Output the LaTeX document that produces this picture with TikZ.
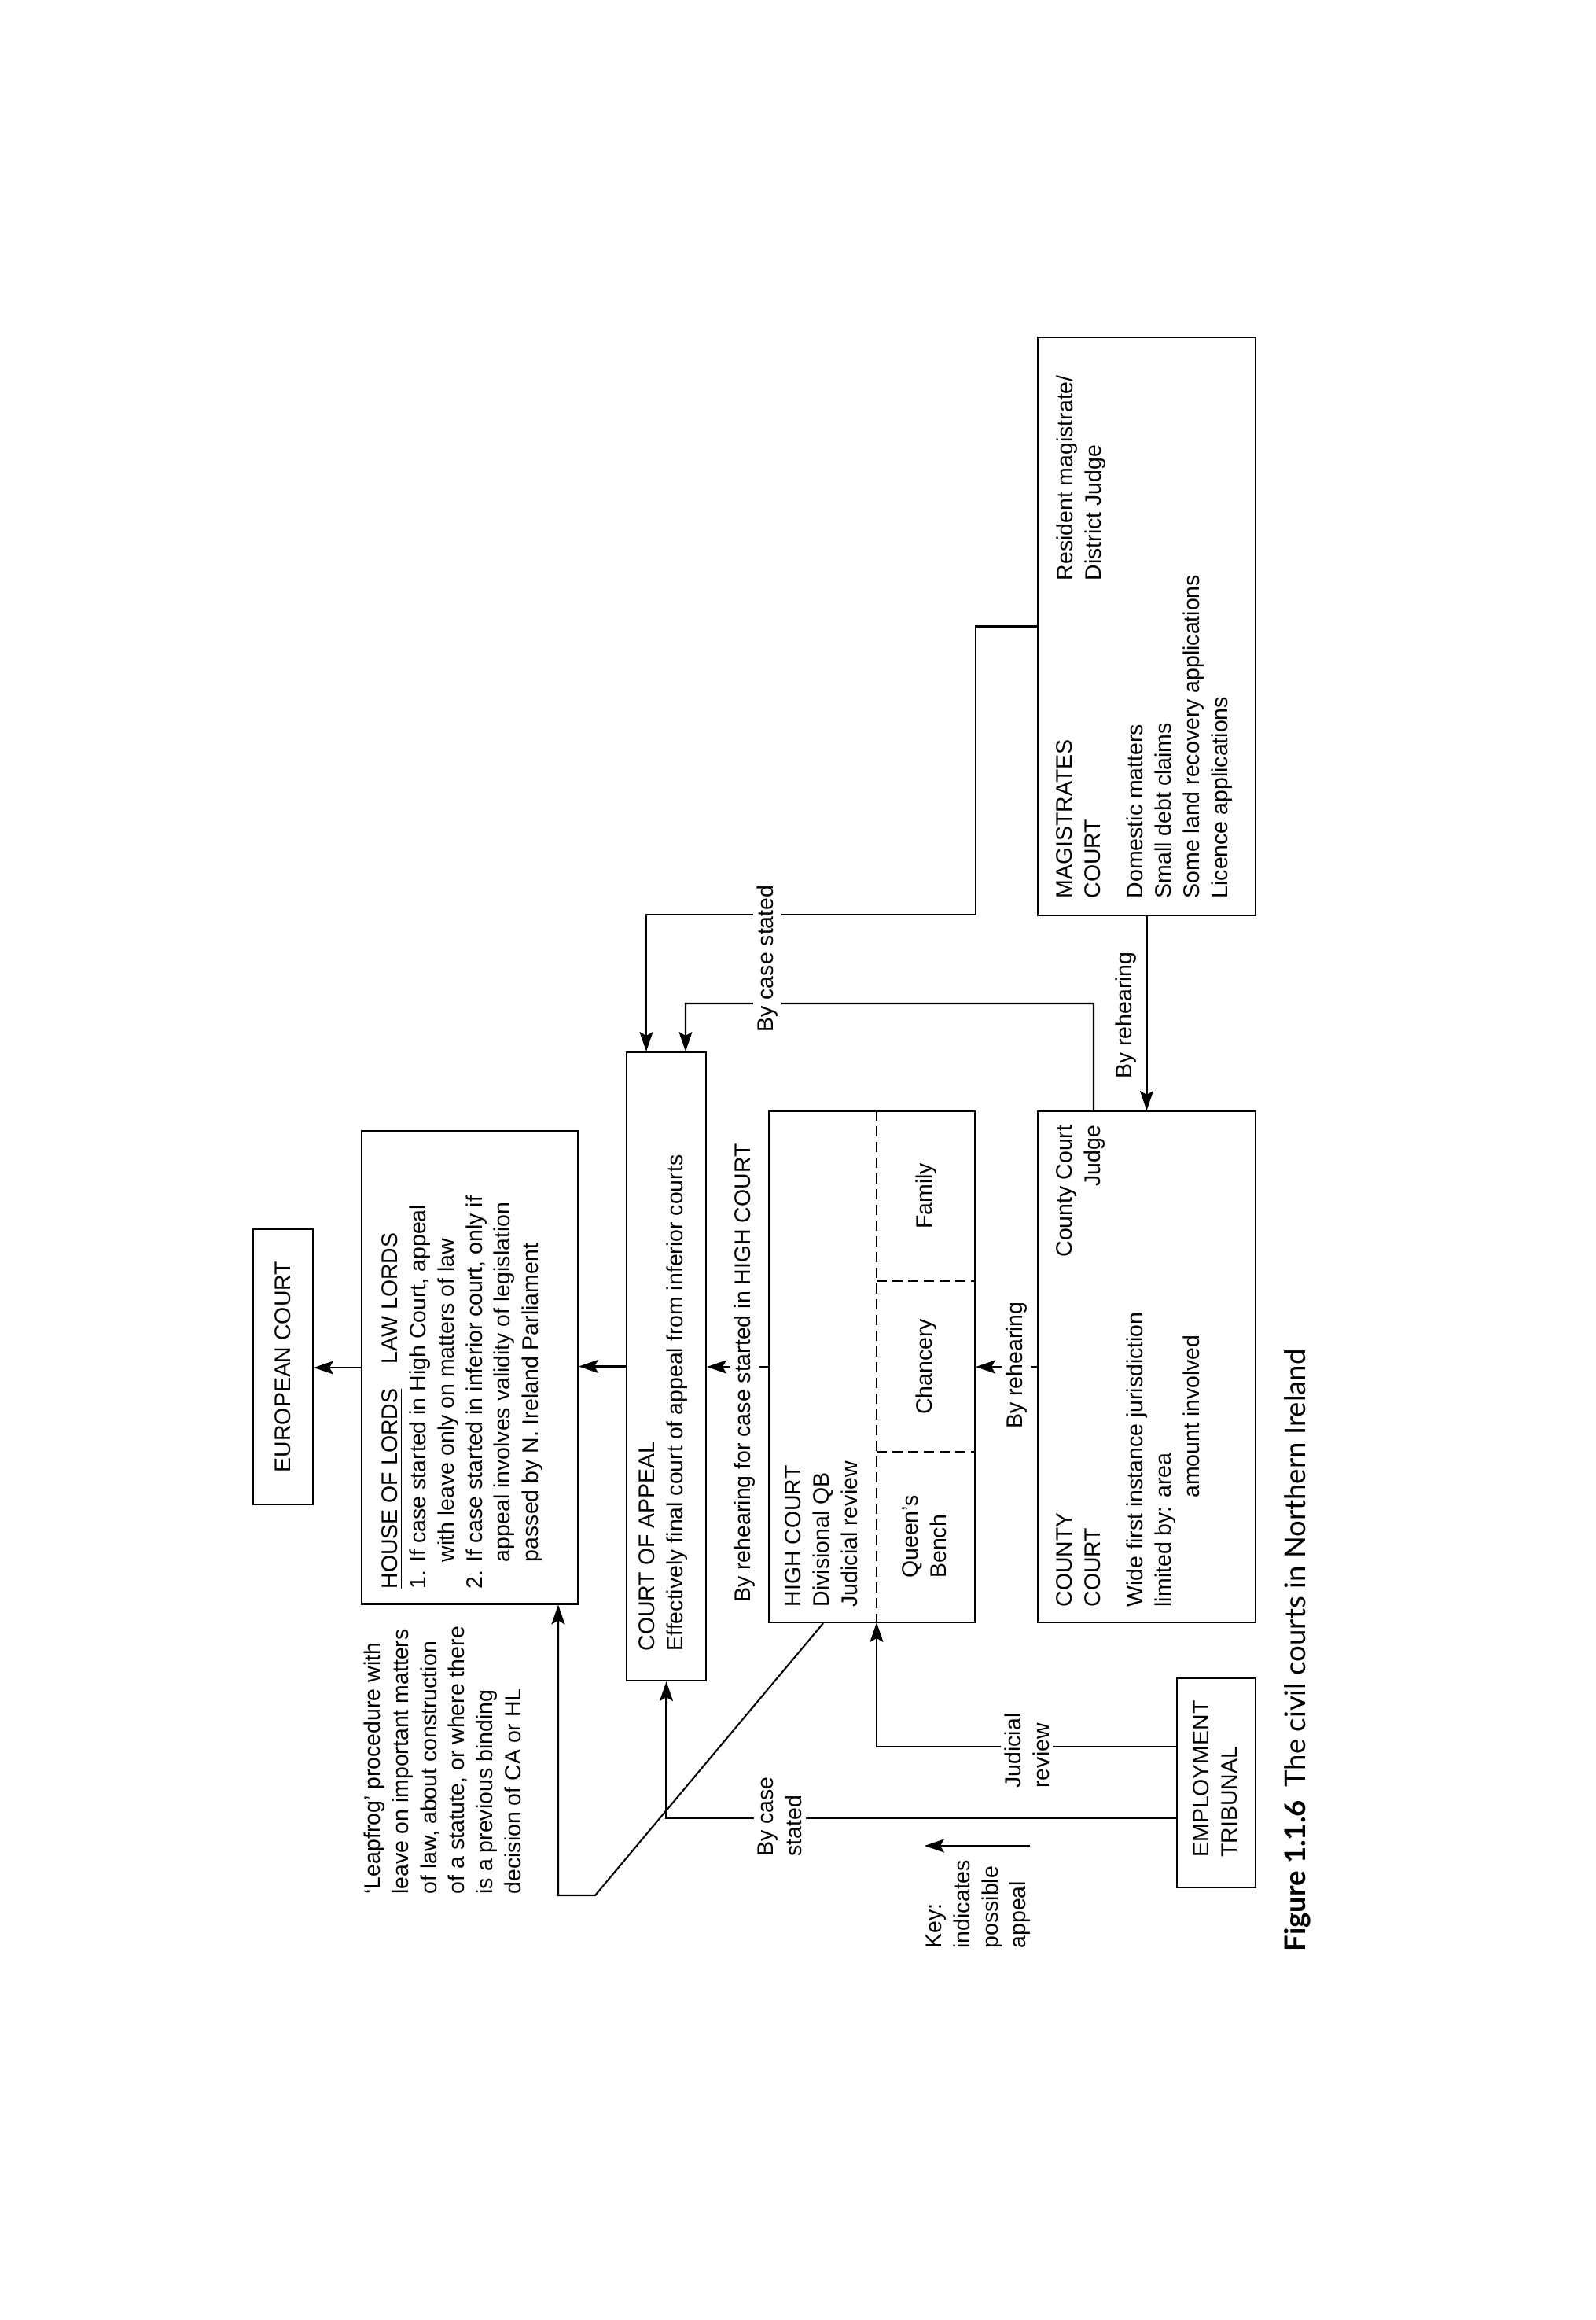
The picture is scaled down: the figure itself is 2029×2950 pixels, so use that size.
\documentclass[tikz,border=0pt]{standalone}
\usepackage{fontspec}
\setmainfont{Liberation Sans}
\newfontfamily\titlefont{Lato}
\usetikzlibrary{arrows.meta}
\newcommand{\bodyfont}{\fontsize{8.1}{10.2}\selectfont}
\begin{document}
\begin{tikzpicture}[x=0.1mm,y=-0.1mm,
  box/.style={draw, line width=0.6pt, inner sep=0, rectangle},
  arr/.style={line width=0.6pt, -{Stealth[length=2.5mm,width=1.7mm,inset=0.5mm]}},
  hcdash/.style={line width=0.6pt, dash pattern=on 1.3mm off 0.7mm},
  txt/.style={rotate=90, inner sep=0, font=\bodyfont, align=left},
  lbl/.style={rotate=90, inner sep=0.5mm, fill=white, font=\bodyfont, align=left},
]
\fill[white] (0,0) rectangle (2029,2950);
\useasboundingbox (0,0) rectangle (2029,2950);

% boxes
\node[box, minimum width=7.6mm, minimum height=35mm] (ec) at (360,1738) {};
\node[box, minimum width=27.5mm, minimum height=60.1mm] (hol) at (597.5,1739) {};
\node[box, minimum width=10.1mm, minimum height=79.9mm] (coa) at (847.5,1737.5) {};
\node[box, minimum width=26.2mm, minimum height=65mm] (hc) at (1109,1738) {};
\node[box, minimum width=27.7mm, minimum height=65mm] (cc) at (1458.5,1738) {};
\node[box, minimum width=27.7mm, minimum height=73.5mm] (mag) at (1458.5,796.5) {};
\node[box, minimum width=10mm, minimum height=26.6mm] (et) at (1547,2267) {};

% High Court divisions
\coordinate (qbx) at (1115,2063);
\draw[hcdash] (qbx |- hc.north) -- (qbx);
\draw[hcdash] (1115,1629) -- (1240,1629);
\draw[hcdash] (1115,1846) -- (1240,1846);

% connectors
\draw[arr] (hol.west) -- (hol.west -| ec.east);
\draw[arr] (coa.west) -- (coa.west -| hol.east);
\draw[arr] (hc.west) -- (hc.west -| coa.east);
\draw[arr] (cc.west) -- (cc.west -| hc.east);
\draw[arr] (mag.south) -- (cc.north);
\coordinate (m1) at (1241,1163);
\draw[arr] (mag.west) -| (m1) -| ([xshift=-2.55mm]coa.north);
\coordinate (m2) at (1391,1276);
\draw[arr] ([xshift=-6.75mm]cc.north) -- (m2) -| ([xshift=2.45mm]coa.north);
\draw[arr] ([yshift=4.6mm]et.west) -| (qbx);
\draw[arr] ([yshift=-4.5mm]et.west) -| (coa.south);
\coordinate (lf1) at (757,2410);
\draw[arr] ([xshift=-6.2mm]hc.south) -- (lf1) -| ([xshift=11.25mm]hol.south);
\coordinate (k1) at (1310,2347);
\coordinate (k2) at (1176,2347);
\draw[arr] (k1) -- (k2);

% texts in boxes
\node[txt] (ect) at (ec.center) {EUROPEAN COURT};
\node[txt, anchor=north west] (holt) at (485,2021) {\underline{HOUSE OF LORDS}\hspace{1.1em}LAW LORDS\\
1. If case started in High Court, appeal\\
\phantom{1. }with leave only on matters of law\\
2. If case started in inferior court, only if\\
\phantom{2. }appeal involves validity of legislation\\
\phantom{2. }passed by N. Ireland Parliament};
\node[txt, anchor=north west] (coat) at (812,2100) {COURT OF APPEAL\\Effectively final court of appeal from inferior courts};
\node[txt, anchor=north west] (hct) at (998,2044) {HIGH COURT\\Divisional QB\\Judicial review};
\node[txt] (qb) at (1176,1954) {Queen’s\\Bench};
\node[txt] (ch) at (1178,1738) {Chancery};
\node[txt] (fam) at (1178,1521) {Family};
\node[txt, anchor=north west] (cct) at (1343,2044) {COUNTY\\COURT\\[5.2pt]Wide first instance jurisdiction\\limited by: area\\\phantom{limited by: }amount involved};
\node[txt, anchor=north east, align=right] (ccj) at (1343,1430) {County Court\\Judge};
\node[txt, anchor=north west] (magt) at (1343,1143) {MAGISTRATES\\COURT\\[5.2pt]Domestic matters\\Small debt claims\\Some land recovery applications\\Licence applications};
\node[txt, anchor=north west] (magj) at (1343,739) {Resident magistrate/\\District Judge};
\node[txt] (ett) at (1546,2262) {EMPLOYMENT\\TRIBUNAL};
\node[txt, anchor=north west] (lf) at (462,2409) {‘Leapfrog’ procedure with\\leave on important matters\\of law, about construction\\of a statute, or where there\\is a previous binding\\decision of CA or HL};
\node[txt, anchor=north west] (key) at (1177,2478) {Key:\\indicates\\possible\\appeal};

% connector labels
\node[lbl] (l1) at (947,1746) {By rehearing for case started in HIGH COURT};
\node[lbl] (l2) at (1293,1736) {By rehearing};
\node[lbl] (l3) at (1432,1291) {By rehearing};
\node[lbl] (l4) at (976,1219) {By case stated};
\node[lbl] (l5) at (1306,2226) {Judicial\\review};
\node[lbl] (l6) at (992,2310) {By case\\stated};

% caption
\node[rotate=90, inner sep=0, anchor=north west, font=\titlefont\fontsize{10.4}{12}\selectfont] (title) at (1633,2482) {\textbf{Figure 1.1.6}\hspace{0.45em}The civil courts in Northern Ireland};
\end{tikzpicture}
\end{document}
